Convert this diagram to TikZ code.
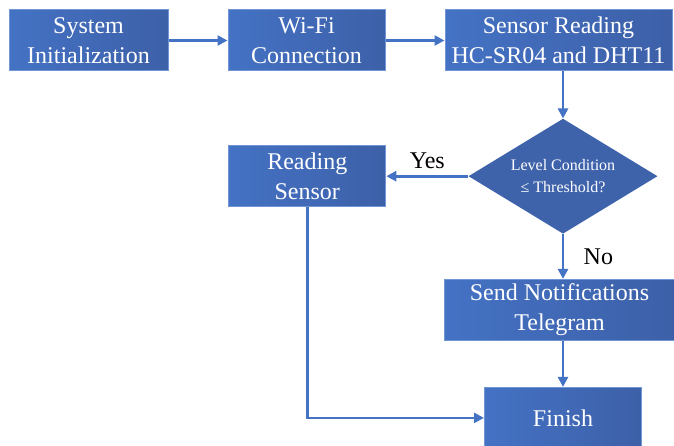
\documentclass[tikz,border=0pt]{standalone}
\usepackage{fontspec}
\setmainfont{Liberation Serif}
\usetikzlibrary{shapes.geometric, arrows.meta, positioning}

\definecolor{boxlight}{HTML}{4472C4}
\definecolor{boxdark}{HTML}{3D60A8}
\definecolor{boxline}{HTML}{7196D6}
\definecolor{decfill}{HTML}{3F63AB}
\definecolor{arrowblue}{HTML}{4472C4}

\begin{document}
\begin{tikzpicture}[
            x=1pt, y=1pt,
            node distance=47pt and 59pt,
            >={Triangle[length=10pt,width=10pt]},
            process/.style={
				rectangle,
				minimum height=61pt,
				inner sep=0pt,
				align=center,
				draw=boxline,
				line width=1pt,
				left color=boxlight,
				right color=boxdark,
				text=white,
				font=\fontsize{24}{30}\selectfont
			},
            decision/.style={
				diamond,
				aspect=1.64,
				minimum width=189pt,
				minimum height=115pt,
				inner sep=0pt,
				align=center,
				fill=decfill,
				text=white,
				font=\fontsize{16}{22}\selectfont
			},
            arrow/.style={
				line width=2.8pt,
				draw=arrowblue,
				->
			},
            answer/.style={
				text=black,
				font=\fontsize{24}{30}\selectfont
			}
        ]

        \useasboundingbox (0,0) rectangle (674,-446);

        \node (init) [process, minimum width=159pt] at (88.5,-40.5) {System\\Initialization};
        \node (wifi) [process, minimum width=157pt, right=of init] {Wi-Fi\\Connection};
        \node (sensor) [process, minimum width=227pt, right=of wifi] {Sensor Reading\\HC-SR04 and DHT11};
        \node (dec) [decision, below=47pt of sensor, xshift=4.5pt] {Level Condition\\≤ Threshold?};
        \node (reading) [process, minimum width=157pt, left=82pt of dec] {Reading\\Sensor};
        \node (notify) [process, minimum width=230pt, below=45pt of dec, xshift=-3.5pt] {Send Notifications\\Telegram};
        \node (finish) [process, minimum width=157pt, below=46pt of notify, xshift=3.5pt] {Finish};

        \draw [arrow] (init) -- (wifi);
        \draw [arrow] (wifi) -- (sensor);
        \draw [arrow] (sensor.south -| dec.north) -- (dec.north);
        \draw [arrow] (dec) -- node[answer, above, inner sep=6pt] {Yes} (reading);
        \draw [arrow] (dec.south) -- node[answer, right, xshift=16pt] {No} (dec.south |- notify.north);
        \draw [arrow] (notify.south -| finish.north) -- (finish.north);
        \draw [arrow] (reading.south) |- (finish.west);

\end{tikzpicture}
\end{document}
